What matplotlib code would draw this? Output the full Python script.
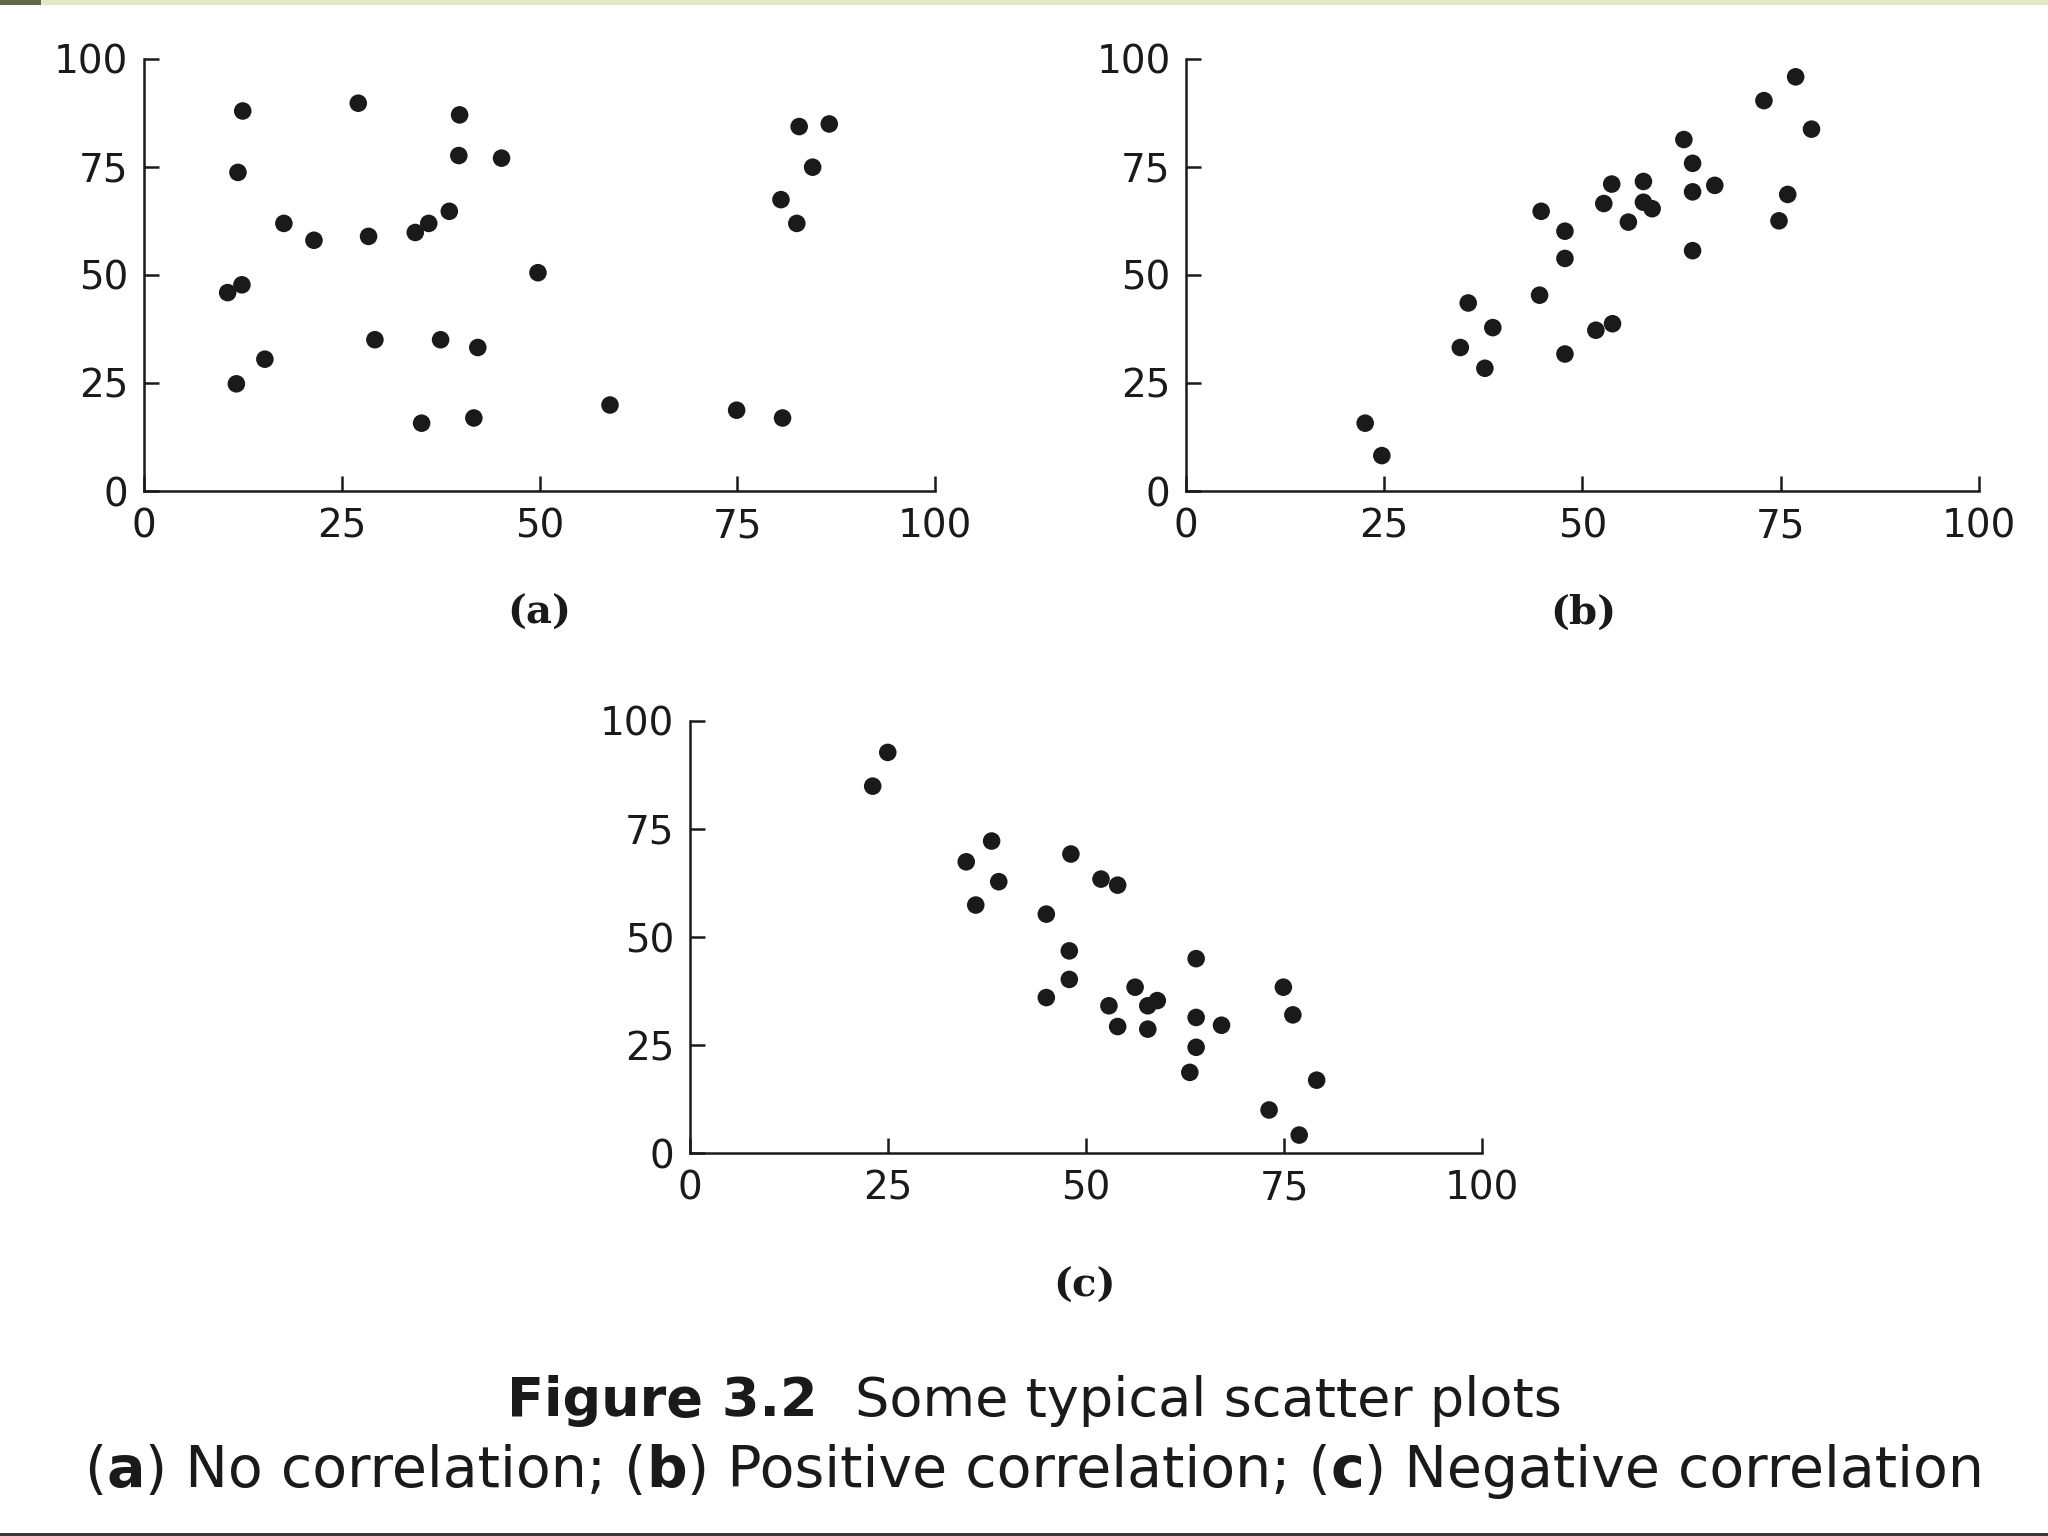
import matplotlib
matplotlib.use("Agg")
import matplotlib.pyplot as plt
from matplotlib.patches import Rectangle

# ---------------- data ----------------
a_x = [10.6, 12.4, 11.7, 11.9, 12.5, 15.3, 17.7, 21.5, 27.1, 28.4, 29.2, 34.3, 36.0,
       35.1, 37.5, 38.6, 39.8, 39.9, 41.7, 42.2, 45.2, 49.8, 58.9, 74.9, 80.7, 80.5,
       82.5, 82.8, 84.5, 86.6]
a_y = [45.9, 47.7, 24.8, 73.7, 87.9, 30.5, 61.9, 58.0, 89.7, 58.9, 35.0, 59.8, 61.9,
       15.7, 35.0, 64.7, 77.6, 87.0, 16.9, 33.2, 77.0, 50.5, 19.9, 18.7, 16.9, 67.4,
       61.9, 84.3, 74.9, 84.9]

b_x = [22.6, 24.7, 34.6, 35.6, 37.7, 38.7, 44.6, 44.8, 47.8, 47.8, 47.8, 51.7, 53.8,
       52.7, 53.7, 55.8, 57.7, 57.7, 58.8, 62.8, 63.9, 63.9, 63.9, 66.7, 72.9, 74.8,
       75.9, 76.9, 78.9]
b_y = [15.7, 8.2, 33.2, 43.5, 28.4, 37.8, 45.3, 64.7, 60.1, 53.8, 31.7, 37.2, 38.7,
       66.5, 71.0, 62.2, 71.6, 66.8, 65.3, 81.3, 75.8, 69.2, 55.6, 70.7, 90.3, 62.5,
       68.6, 95.8, 83.7]

c_x = [23.1, 25.0, 34.9, 36.1, 38.1, 39.0, 45.0, 45.0, 48.1, 47.9, 47.9, 51.9, 54.0,
       52.9, 54.0, 56.2, 57.8, 59.0, 57.8, 63.9, 63.9, 63.9, 63.1, 67.1, 73.1, 74.9,
       76.1, 76.9, 79.1]
c_y = [84.9, 92.7, 67.4, 57.4, 72.2, 62.8, 55.3, 36.0, 69.2, 46.8, 40.2, 63.4, 62.0,
       34.1, 29.3, 38.4, 34.1, 35.3, 28.7, 45.0, 31.4, 24.5, 18.7, 29.6, 10.0, 38.4,
       32.0, 4.2, 16.9]

ticks = [0, 25, 50, 75, 100]
tick_labels = ["0", "25", "50", "75", "100"]
panel_labels = ["(a)", "(b)", "(c)"]
caption_title_bold = "Figure 3.2"
caption_title_rest = "Some typical scatter plots"
caption_line2 = [("(", False), ("a", True), (") No correlation; (", False), ("b", True),
                 (") Positive correlation; (", False), ("c", True), (") Negative correlation", False)]

# ---------------- figure ----------------
SANS = ["DejaVu Sans"]
INK = "#1a1a1a"
fig = plt.figure(figsize=(20.48, 15.36), dpi=100)
fig.patch.set_facecolor("white")

# decorative slide bars
fig.add_artist(Rectangle((0, 1 - 5 / 1536), 1, 5 / 1536, transform=fig.transFigure,
                         color="#e3e6c9", lw=0, zorder=0))
fig.add_artist(Rectangle((0, 1 - 5 / 1536), 41 / 2048, 5 / 1536, transform=fig.transFigure,
                         color="#66664c", lw=0, zorder=1))
fig.add_artist(Rectangle((0, 0), 1, 3 / 1536, transform=fig.transFigure,
                         color="#3a3a3a", lw=0, zorder=0))

rects = [
    [0.0702, 0.6803, 0.3865, 0.2815],
    [0.5791, 0.6803, 0.3871, 0.2815],
    [0.3367, 0.2492, 0.3871, 0.2815],
]
data = [(a_x, a_y), (b_x, b_y), (c_x, c_y)]
label_pos = [(0.2634, 0.601), (0.773, 0.601), (0.5294, 0.163)]

for rect, (xs, ys), lab, lp in zip(rects, data, panel_labels, label_pos):
    ax = fig.add_axes(rect)
    ax.set_facecolor("none")
    ax.scatter(xs, ys, s=160, color=INK, edgecolors="none", zorder=3, clip_on=False)
    ax.set_xlim(0, 100)
    ax.set_ylim(0, 100)
    for side in ("top", "right"):
        ax.spines[side].set_visible(False)
    for side in ("left", "bottom"):
        ax.spines[side].set_linewidth(1.8)
        ax.spines[side].set_color(INK)
    ax.set_xticks(ticks)
    ax.set_yticks(ticks)
    ax.set_xticklabels(tick_labels, fontfamily=SANS, fontsize=28, color=INK)
    ax.set_yticklabels(tick_labels, fontfamily=SANS, fontsize=28, color=INK)
    ax.tick_params(axis="both", direction="in", length=11, width=1.8, color=INK)
    ax.tick_params(axis="x", pad=12)
    ax.tick_params(axis="y", pad=11)
    fig.text(lp[0], lp[1], lab, ha="center", va="center", fontsize=29,
             fontfamily=["DejaVu Serif"], fontweight="bold", color=INK)

# ---------------- caption ----------------
fig.canvas.draw()
renderer = fig.canvas.get_renderer()


def place_row(pieces, y, size, cx=0.505):
    arts = []
    for txt, bold in pieces:
        t = fig.text(0, y, txt, ha="left", va="center", fontsize=size, fontfamily=SANS,
                     fontweight="bold" if bold else "normal", color=INK)
        arts.append(t)
    widths = [a.get_window_extent(renderer).width / fig.bbox.width for a in arts]
    total = sum(widths)
    x = cx - total / 2
    for a, w in zip(arts, widths):
        a.set_x(x)
        x += w


place_row([(caption_title_bold + "  ", True), (caption_title_rest, False)], 0.0878, 39)
place_row(caption_line2, 0.0418, 41)

fig.savefig("out.png", dpi=100, facecolor=fig.get_facecolor())
